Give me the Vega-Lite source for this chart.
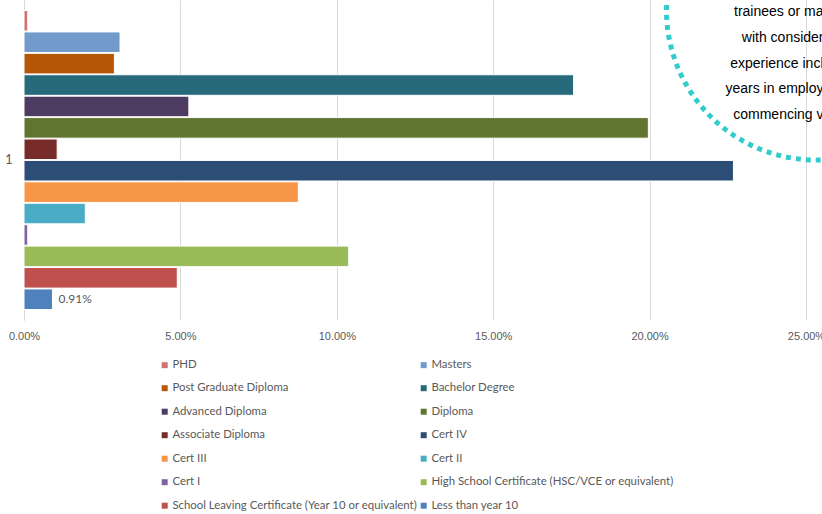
{
  "$schema": "https://vega.github.io/schema/vega-lite/v6.json",
  "autosize": {"type": "none"},
  "padding": {"left": 24, "top": 0, "right": 16, "bottom": 194},
  "width": 782,
  "height": 320,
  "background": "white",
  "config": {"view": {"stroke": null}, "font": "Lato, sans-serif"},
  "datasets": {
    "bars": [
      {"cat": "1", "level": "PHD", "value": 0.0012},
      {"cat": "1", "level": "Masters", "value": 0.0307},
      {"cat": "1", "level": "Post Graduate Diploma", "value": 0.0289},
      {"cat": "1", "level": "Bachelor Degree", "value": 0.1757},
      {"cat": "1", "level": "Advanced Diploma", "value": 0.0527},
      {"cat": "1", "level": "Diploma", "value": 0.1996},
      {"cat": "1", "level": "Associate Diploma", "value": 0.0106},
      {"cat": "1", "level": "Cert IV", "value": 0.2268},
      {"cat": "1", "level": "Cert III", "value": 0.0877},
      {"cat": "1", "level": "Cert II", "value": 0.0196},
      {"cat": "1", "level": "Cert I", "value": 0.0012},
      {"cat": "1", "level": "High School Certificate (HSC/VCE or equivalent)", "value": 0.1038},
      {"cat": "1", "level": "School Leaving Certificate (Year 10 or equivalent)", "value": 0.049},
      {"cat": "1", "level": "Less than year 10", "value": 0.0091}
    ],
    "ring": [{"cat": "1", "x": 0.2532}],
    "note": [{"cat": "1", "x": 0.2556, "lines": ["trainees or ma", "with consider", "experience incl", "years in employ", "commencing v"]}]
  },
  "layer": [
    {
      "data": {"name": "bars"},
      "mark": {"type": "bar", "stroke": "white", "strokeWidth": 1},
      "encoding": {
        "y": {
          "field": "cat", "type": "nominal",
          "scale": {"paddingOuter": 0.0351, "paddingInner": 0},
          "axis": {"title": null, "domain": true, "domainColor": "#d9d9d9", "ticks": false, "labelColor": "#595959", "labelFontSize": 12.5, "labelPadding": 12, "grid": false}
        },
        "yOffset": {
          "field": "level", "type": "nominal",
          "scale": {
            "domain": ["PHD", "Masters", "Post Graduate Diploma", "Bachelor Degree", "Advanced Diploma", "Diploma", "Associate Diploma", "Cert IV", "Cert III", "Cert II", "Cert I", "High School Certificate (HSC/VCE or equivalent)", "School Leaving Certificate (Year 10 or equivalent)", "Less than year 10"],
            "paddingInner": 0.04, "paddingOuter": 0
          }
        },
        "x": {
          "field": "value", "type": "quantitative",
          "scale": {"domain": [0, 0.25], "nice": false},
          "axis": {"title": null, "values": [0, 0.05, 0.1, 0.15, 0.2, 0.25], "format": ".2%", "domain": false, "ticks": false, "grid": true, "gridColor": "#d9d9d9", "labelColor": "#595959", "labelFont": "Liberation Sans, sans-serif", "labelFontSize": 11, "labelPadding": 10, "labelFlush": false, "labelOverlap": false}
        },
        "color": {
          "field": "level", "type": "nominal",
          "scale": {
            "domain": ["PHD", "Post Graduate Diploma", "Advanced Diploma", "Associate Diploma", "Cert III", "Cert I", "School Leaving Certificate (Year 10 or equivalent)", "Masters", "Bachelor Degree", "Diploma", "Cert IV", "Cert II", "High School Certificate (HSC/VCE or equivalent)", "Less than year 10"],
            "range": ["#CF7472", "#B65708", "#4E3B62", "#772C2A", "#F79646", "#8064A2", "#C0504D", "#729ACA", "#276A7C", "#5F7530", "#2C4D75", "#4BACC6", "#9BBB59", "#4F81BD"]
          },
          "legend": {
            "title": null, "orient": "none", "legendX": 135, "legendY": 359, "columns": 2, "columnPadding": 0, "rowPadding": 10.5,
            "symbolType": "square", "symbolSize": 36, "symbolStrokeWidth": 0, "labelOffset": 2,
            "labelColor": "#595959", "labelFontSize": 11.4, "labelLimit": 400
          }
        }
      }
    },
    {
      "data": {"name": "bars"},
      "transform": [{"filter": "datum.level === 'Less than year 10'"}],
      "mark": {"type": "text", "align": "left", "baseline": "middle", "dx": 6, "fontSize": 12, "color": "#595959"},
      "encoding": {
        "y": {"field": "cat", "type": "nominal"},
        "yOffset": {"field": "level", "type": "nominal"},
        "x": {"field": "value", "type": "quantitative"},
        "text": {"field": "value", "type": "quantitative", "format": ".2%"}
      }
    },
    {
      "data": {"name": "ring"},
      "mark": {"type": "point", "shape": "circle", "filled": false, "size": 89401, "stroke": "#33CCCC", "strokeWidth": 5, "strokeDash": [5, 5], "strokeCap": "butt", "opacity": 1},
      "encoding": {
        "y": {"field": "cat", "type": "nominal", "bandPosition": 0},
        "x": {"field": "x", "type": "quantitative"}
      }
    },
    {
      "data": {"name": "note"},
      "mark": {"type": "text", "align": "right", "baseline": "top", "dy": -5, "font": "Liberation Sans, sans-serif", "fontSize": 14, "lineHeight": 25.6, "color": "#000000"},
      "encoding": {
        "y": {"field": "cat", "type": "nominal", "bandPosition": 0},
        "x": {"field": "x", "type": "quantitative"},
        "text": {"field": "lines"}
      }
    }
  ]
}
